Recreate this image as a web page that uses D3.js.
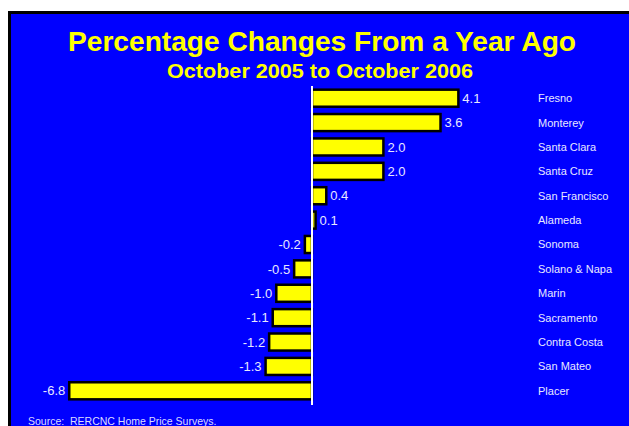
<!DOCTYPE html>
<html>
<head>
<meta charset="utf-8">
<script src="https://cdn.jsdelivr.net/npm/d3@7"></script>
<style>
  body { margin: 0; background: #fff; }
  svg { display: block; }
</style>
</head>
<body>
<div id="chart"></div>
<script>
const regions = ["Fresno", "Monterey", "Santa Clara", "Santa Cruz", "San Francisco", "Alameda",
  "Sonoma", "Solano & Napa", "Marin", "Sacramento", "Contra Costa", "San Mateo", "Placer"];
const changes = [4.1, 3.6, 2.0, 2.0, 0.4, 0.1, -0.2, -0.5, -1.0, -1.1, -1.2, -1.3, -6.8];

const width = 629, height = 426;

const svg = d3.select("#chart").append("svg")
  .attr("width", width)
  .attr("height", height);

// blue panel with black frame
svg.append("rect")
  .attr("x", 9.5).attr("y", 12.5)
  .attr("width", 640).attr("height", 430)
  .attr("fill", "#0000ff")
  .attr("stroke", "#000")
  .attr("stroke-width", 3);

svg.append("text")
  .attr("x", 322).attr("y", 51)
  .attr("text-anchor", "middle")
  .attr("font-family", "Liberation Sans, Arial, sans-serif")
  .attr("font-weight", "bold")
  .attr("font-size", 28)
  .attr("textLength", 508)
  .attr("lengthAdjust", "spacingAndGlyphs")
  .attr("fill", "#ffff00")
  .text("Percentage Changes From a Year Ago");

svg.append("text")
  .attr("x", 320).attr("y", 78)
  .attr("text-anchor", "middle")
  .attr("font-family", "Liberation Sans, Arial, sans-serif")
  .attr("font-weight", "bold")
  .attr("font-size", 21)
  .attr("textLength", 306)
  .attr("lengthAdjust", "spacingAndGlyphs")
  .attr("fill", "#ffff00")
  .text("October 2005 to October 2006");

let x = d3.scaleLinear()
  .domain([-7, 4.5])
  .range([312 - 7 * 35.7, 312 + 4.5 * 35.7]);

let y = d3.scaleBand()
  .domain(regions)
  .range([86, 403])
  .paddingInner(0.3)
  .paddingOuter(0.15);

let data = regions.map((r, i) => ({ name: r, value: changes[i] }));

svg.selectAll("rect.bar")
  .data(data)
  .enter()
  .append("rect")
  .attr("class", "bar")
  .attr("x", d => x(Math.min(0, d.value)))
  .attr("y", d => y(d.name))
  .attr("width", d => Math.abs(x(d.value) - x(0)))
  .attr("height", y.bandwidth())
  .attr("fill", "#ffff00")
  .attr("stroke", "#000")
  .attr("stroke-width", 2.5);

// zero line
svg.append("line")
  .attr("x1", x(0)).attr("x2", x(0))
  .attr("y1", 86).attr("y2", 405)
  .attr("stroke", "#fff")
  .attr("stroke-width", 2);

svg.selectAll("text.value")
  .data(data)
  .enter()
  .append("text")
  .attr("class", "value")
  .attr("x", d => d.value >= 0 ? x(d.value) + 4 : x(d.value) - 4)
  .attr("y", d => y(d.name) + y.bandwidth() / 2)
  .attr("dy", "0.36em")
  .attr("text-anchor", d => d.value >= 0 ? "start" : "end")
  .attr("font-family", "Liberation Sans, Arial, sans-serif")
  .attr("font-size", 13)
  .attr("fill", "#e8e8ff")
  .text(d => d.value.toFixed(1));

svg.selectAll("text.region")
  .data(data)
  .enter()
  .append("text")
  .attr("class", "region")
  .attr("x", 538)
  .attr("y", d => y(d.name) + y.bandwidth() / 2)
  .attr("dy", "0.36em")
  .attr("font-family", "Liberation Sans, Arial, sans-serif")
  .attr("font-size", 11)
  .attr("fill", "#e8e8ff")
  .text(d => d.name);

svg.append("text")
  .attr("x", 28).attr("y", 425)
  .attr("font-family", "Liberation Sans, Arial, sans-serif")
  .attr("font-size", 10.5)
  .attr("fill", "#dcdcff")
  .attr("xml:space", "preserve")
  .text("Source:  RERCNC Home Price Surveys.");
</script>
</body>
</html>
